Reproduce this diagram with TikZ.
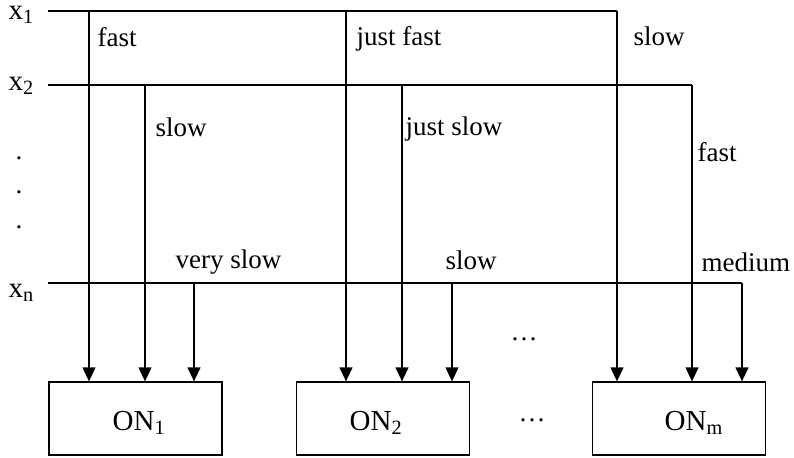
\documentclass[tikz,border=0pt]{standalone}
\usepackage{fontspec}
\setmainfont{Liberation Serif}
\usetikzlibrary{arrows.meta, positioning}

\begin{document}
\begin{tikzpicture}[x=0.5pt, y=-0.5pt,
                    line width=0.65pt, >={Triangle[length=7pt,width=6.5pt]},
                    every node/.style={font=\fontsize{13.5}{16}\selectfont, inner sep=0pt},
                    lbl/.style={anchor=base west},
                    big/.style={lbl, font=\fontsize{14.5}{17}\selectfont},
                    onbox/.style={draw, minimum width=86.5pt, minimum height=36.5pt}]

\useasboundingbox (0,0) rectangle (794,457);

% Inputs
\node (x1) [big] at (8,19) {x\textsubscript{1}};
\node (x2) [big] at (8,90) {x\textsubscript{2}};
\node (xn) [big] at (8,297) {x\textsubscript{n}};
\node (d1) [anchor=base] at (19,159) {.};
\node (d2) [anchor=base] at (19,193) {.};
\node (d3) [anchor=base] at (19,228) {.};

\coordinate (s1) at (48,11);
\coordinate (s2) at (48,85);
\coordinate (sn) at (48,283);

% Output neurons
\node (on1) [onbox] at (135.5,418.5) {};
\node (on2) [onbox] at (383,418.5) {};
\node (onm) [onbox] at (679,418.5) {};
\node (t1) [big] at (112,430) {ON\textsubscript{1}};
\node (t2) [big] at (349,430) {ON\textsubscript{2}};
\node (tm) [big] at (664,430) {ON\textsubscript{m}};
\node (e1) [anchor=base] at (524,340) {\ldots};
\node (e2) [anchor=base] at (532,421) {\ldots};

% Taps
\coordinate (a11) at (89,11);
\coordinate (a12) at (346,11);
\coordinate (a1m) at (617,11);
\coordinate (a21) at (145,85);
\coordinate (a22) at (402,85);
\coordinate (a2m) at (692,85);
\coordinate (an1) at (194,283);
\coordinate (an2) at (452,283);
\coordinate (anm) at (742,283);

% Connections
\draw (s1) -- (a1m);
\draw (s2) -- (a2m);
\draw (sn) -- (anm);
\draw[->] (a11) -- (a11 |- on1.north);
\draw[->] (a21) -- (a21 |- on1.north);
\draw[->] (an1) -- (an1 |- on1.north);
\draw[->] (a12) -- (a12 |- on2.north);
\draw[->] (a22) -- (a22 |- on2.north);
\draw[->] (an2) -- (an2 |- on2.north);
\draw[->] (a1m) -- (a1m |- onm.north);
\draw[->] (a2m) -- (a2m |- onm.north);
\draw[->] (anm) -- (anm |- onm.north);

% Labels
\node [lbl] at (97,46) {fast};
\node [lbl] at (356,45) {just fast};
\node [lbl] at (633,45) {slow};
\node [lbl] at (155,136) {slow};
\node [lbl] at (405,135) {just slow};
\node [lbl] at (697,161) {fast};
\node [lbl] at (175,268) {very slow};
\node [lbl] at (445,269) {slow};
\node [lbl] at (701,271) {medium};

\end{tikzpicture}
\end{document}
